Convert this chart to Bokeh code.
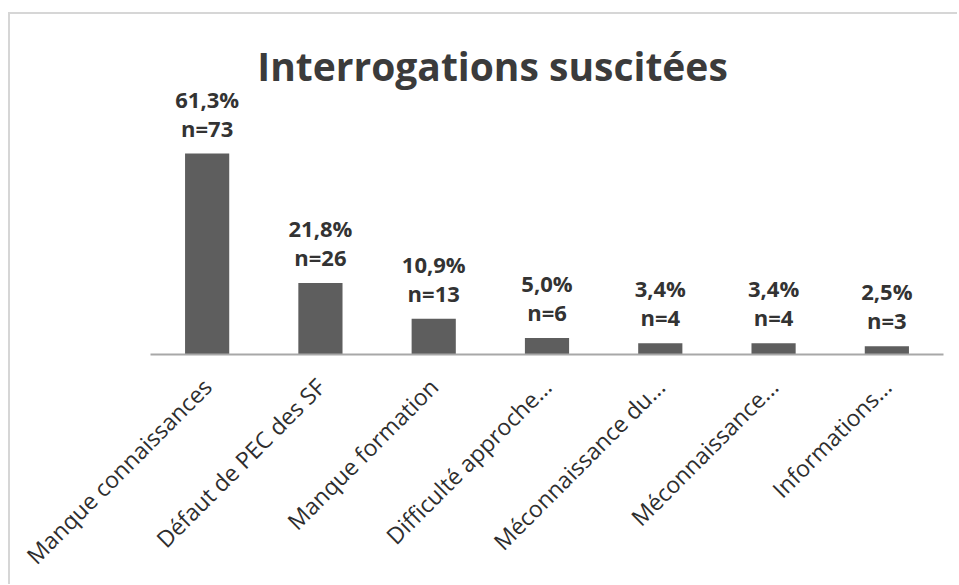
from bokeh.plotting import figure
from bokeh.models import ColumnDataSource, Range1d, Label
from bokeh.core.properties import value
from bokeh.embed import file_html
from bokeh.resources import INLINE
import math

categories = ["Manque connaissances", "Défaut de PEC des SF", "Manque formation",
              "Difficulté approche...", "Méconnaissance du...", "Méconnaissance...",
              "Informations..."]
percents = [61.3, 21.8, 10.9, 5.0, 3.4, 3.4, 2.5]
counts = [73, 26, 13, 6, 4, 4, 3]
pct_labels = ["61,3%", "21,8%", "10,9%", "5,0%", "3,4%", "3,4%", "2,5%"]
n_labels = ["n=%d" % c for c in counts]
title_text = "Interrogations suscitées"

p = figure(x_range=categories, y_range=Range1d(0, 102.5),
           frame_width=793, frame_height=336,
           output_backend="svg", toolbar_location=None,
           min_border_left=140, min_border_right=14, min_border_top=4,
           min_border_bottom=0,
           styles={"border-top": "2px solid #d6d6d6",
                   "border-left": "2px solid #d6d6d6",
                   "margin-left": "8px", "margin-top": "12px"})
p.background_fill_color = "white"
p.border_fill_color = "white"
p.outline_line_color = None
p.xgrid.visible = False
p.ygrid.visible = False
p.yaxis.visible = False

src = ColumnDataSource(dict(cat=categories, pct=percents, pl=pct_labels, nl=n_labels))
p.vbar(x="cat", top="pct", width=0.39, source=src, fill_color="#5e5e5e",
       line_color=None)

font = value("Open Sans")
p.text(x="cat", y="pct", text="nl", source=src, text_align="center",
       text_baseline="bottom", y_offset=-11, text_font=font,
       text_font_size="22px", text_font_style="bold", text_color="#333333")
p.text(x="cat", y="pct", text="pl", source=src, text_align="center",
       text_baseline="bottom", y_offset=-40, text_font=font,
       text_font_size="22px", text_font_style="bold", text_color="#333333")

ax = p.xaxis[0]
ax.axis_line_color = "#a8a8a8"
ax.axis_line_width = 2
ax.major_tick_line_color = None
ax.minor_tick_line_color = None
ax.major_label_orientation = math.pi / 4
ax.major_label_text_font = "Open Sans"
ax.major_label_text_font_size = "23px"
ax.major_label_text_color = "#2e2e2e"
ax.major_label_standoff = 22

p.add_layout(Label(x=342, y=289, x_units="screen", y_units="screen",
                   text=title_text, text_align="center", text_baseline="alphabetic",
                   text_font="Open Sans", text_font_size="39px",
                   text_font_style="bold", text_color="#3b3b3b"))

open("out.html", "w").write(file_html(p, INLINE))
